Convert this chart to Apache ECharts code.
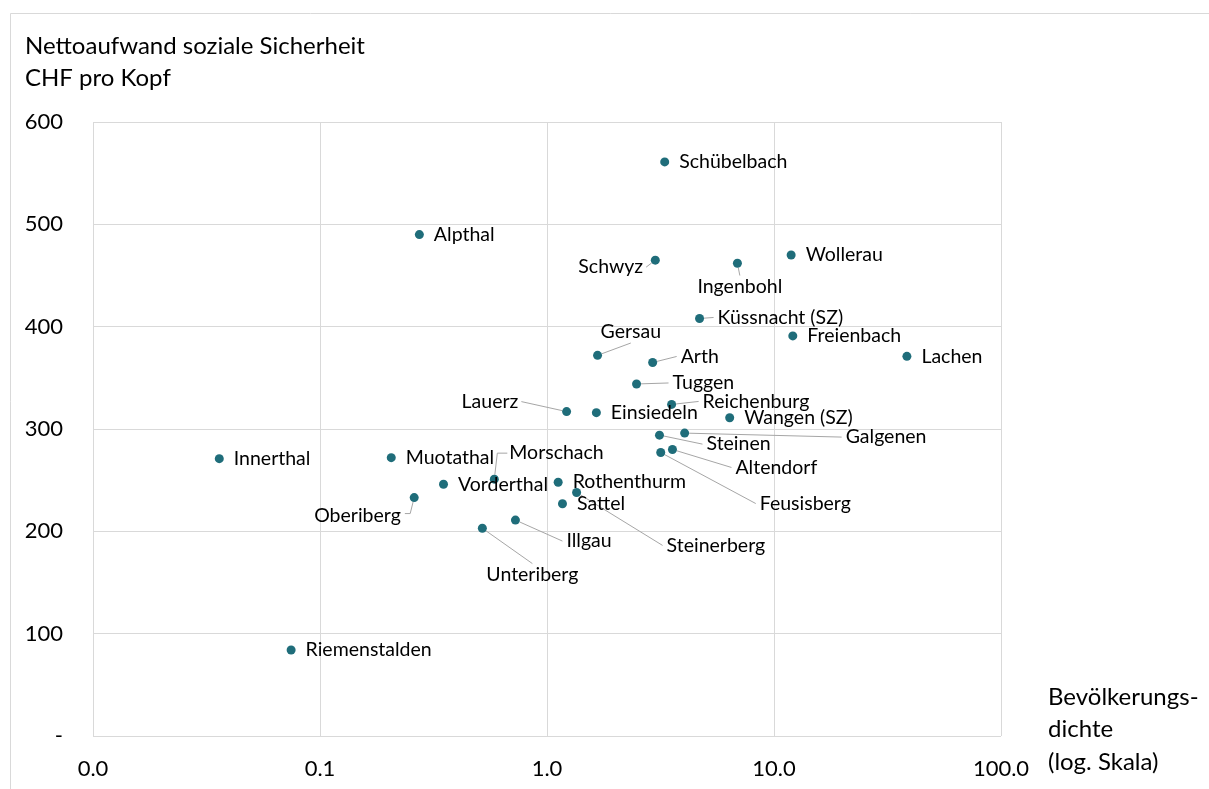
<!DOCTYPE html>
<html>
<head>
<meta charset="utf-8">
<script src="https://cdn.jsdelivr.net/npm/echarts@6/dist/echarts.min.js"></script>
<style>
html,body{margin:0;padding:0;background:#fff;}
#chart{width:1209px;height:789px;}
</style>
</head>
<body>
<div id="chart"></div>
<script>
// ---- data ----
const names = ['Schübelbach','Alpthal','Wollerau','Schwyz','Ingenbohl','Küssnacht (SZ)','Freienbach','Lachen','Gersau','Arth','Tuggen','Reichenburg','Lauerz','Einsiedeln','Wangen (SZ)','Steinen','Galgenen','Altendorf','Feusisberg','Innerthal','Muotathal','Morschach','Vorderthal','Rothenthurm','Steinerberg','Oberiberg','Sattel','Illgau','Unteriberg','Riemenstalden'];
const density = [3.3, 0.274, 11.9, 3.0, 6.9, 4.7, 12.1, 38.5, 1.67, 2.92, 2.48, 3.54, 1.22, 1.65, 6.38, 3.13, 4.04, 3.57, 3.17, 0.036, 0.206, 0.586, 0.35, 1.12, 1.35, 0.26, 1.17, 0.726, 0.519, 0.0746];
const cost = [561, 490, 470, 465, 462, 408, 391, 371, 372, 365, 344, 324, 317, 316, 311, 294, 296, 280, 277, 271, 272, 251, 246, 248, 238, 233, 227, 211, 203, 84];
const xTicks = [0.01, 0.1, 1, 10, 100];
const yTitle = 'Nettoaufwand soziale Sicherheit\nCHF pro Kopf';
const xTitle = 'Bevölkerungs-\ndichte\n(log. Skala)';

// ---- label layout: shift from default right-hand label, and leader-line anchor ----
const labelShift = {
  'Schwyz': [-91.5, 7, 'right'],
  'Ingenbohl': [-54.5, 23, 'top'],
  'Küssnacht (SZ)': [3.5, -1, 'left'],
  'Gersau': [-11.5, -24, 'bottom'],
  'Arth': [13.5, -6, 'left'],
  'Tuggen': [21.5, -1, 'left'],
  'Reichenburg': [16.5, -3, 'left'],
  'Lauerz': [-119.5, -10, 'right'],
  'Galgenen': [146.5, 4, 'left'],
  'Steinen': [32.5, 9, 'left'],
  'Altendorf': [48.5, 18, 'left'],
  'Feusisberg': [84.5, 51, 'left'],
  'Morschach': [0.5, -26, 'leftElbow'],
  'Steinerberg': [75.5, 53, 'left'],
  'Oberiberg': [-114.5, 18, 'rightElbow'],
  'Illgau': [36.5, 21, 'left'],
  'Unteriberg': [-10.5, 46, 'top']
};

const FONT = 'Lato';
const LABEL_SIZE = 19.5;
const SYM = 9, DIST = 10;
const chart = echarts.init(document.getElementById('chart'));
const seriesData = names.map((n, i) => ({ name: n, value: [density[i], cost[i]] }));
const lineData = names.map((n, i) => [density[i], cost[i], i]).filter(d => labelShift[names[d[2]]]);

function textWidth(t) {
  const el = new echarts.graphic.Text({ style: { text: t, font: LABEL_SIZE + 'px ' + FONT } });
  return el.getBoundingRect().width;
}

function renderLeader(params, api) {
  const idx = api.value(2);
  const s = labelShift[names[idx]];
  const p = api.coord([api.value(0), api.value(1)]);
  const cx = p[0], cy = p[1];
  const lw = textWidth(names[idx]);
  const lh = LABEL_SIZE * 1.2;
  const lx = cx + SYM / 2 + DIST + s[0];
  const lcy = cy + s[1];
  const ly = lcy - lh / 2;
  const lcx = lx + lw / 2;
  let pts;
  switch (s[2]) {
    case 'right': pts = [[lx + lw + 3, lcy]]; break;
    case 'top': pts = [[lcx, ly + 1]]; break;
    case 'bottom': pts = [[lcx, ly + lh]]; break;
    case 'leftElbow': pts = [[cx + 3, lcy], [lx - 2, lcy]]; break;
    case 'rightElbow': pts = [[cx - 4, lcy - 2], [lx + lw + 4, lcy - 2]]; break;
    default: pts = [[lx - 4, lcy]];
  }
  const nx = pts[0][0] - cx, ny = pts[0][1] - cy;
  const d = Math.sqrt(nx * nx + ny * ny) || 1;
  const start = [cx + nx / d * SYM / 2, cy + ny / d * SYM / 2];
  return {
    type: 'polyline',
    shape: { points: [start].concat(pts) },
    style: { stroke: '#a6a6a6', lineWidth: 1, fill: 'none' },
    silent: true
  };
}

const option = {
  animation: false,
  backgroundColor: '#ffffff',
  textStyle: { fontFamily: FONT },
  graphic: [
    { type: 'rect', left: 8, top: 11, shape: { width: 1400, height: 900 }, style: { fill: 'none', stroke: '#d9d9d9', lineWidth: 1 }, silent: true },
    { type: 'text', left: 25, top: 30, style: { text: yTitle, font: '24px ' + FONT, fill: '#000', lineHeight: 32 } },
    { type: 'text', left: 1048, top: 681, style: { text: xTitle, font: '24px ' + FONT, fill: '#000', lineHeight: 32.5 } }
  ],
  grid: { left: 93, top: 122, width: 908, height: 614, containLabel: false },
  xAxis: {
    type: 'log', logBase: 10, min: xTicks[0], max: xTicks[xTicks.length - 1],
    axisLine: { show: false }, axisTick: { show: false },
    splitLine: { show: true, lineStyle: { color: '#d9d9d9', width: 1 } },
    axisLabel: { fontFamily: FONT, fontSize: 22, color: '#000', margin: 22, showMinLabel: true, showMaxLabel: true,
      formatter: v => Number(v).toFixed(1) }
  },
  yAxis: {
    type: 'value', min: 0, max: 600, interval: 100,
    axisLine: { show: false }, axisTick: { show: false },
    splitLine: { show: true, lineStyle: { color: '#d9d9d9', width: 1 } },
    axisLabel: { fontFamily: FONT, fontSize: 22, color: '#000', margin: 30,
      formatter: v => v === 0 ? '-' : String(v) }
  },
  series: [{
    type: 'custom',
    z: 2,
    silent: true,
    data: lineData,
    renderItem: renderLeader
  }, {
    type: 'scatter',
    symbol: 'circle', symbolSize: SYM,
    itemStyle: { color: '#1F6D7A', opacity: 1 },
    data: seriesData,
    z: 3,
    label: { show: true, position: 'right', distance: DIST, formatter: p => p.name,
      fontFamily: FONT, fontSize: LABEL_SIZE, color: '#000' },
    labelLayout: function (params) {
      const s = labelShift[names[params.dataIndex]];
      return s ? { dx: s[0], dy: s[1] } : {};
    }
  }]
};
chart.setOption(option);
</script>
</body>
</html>
